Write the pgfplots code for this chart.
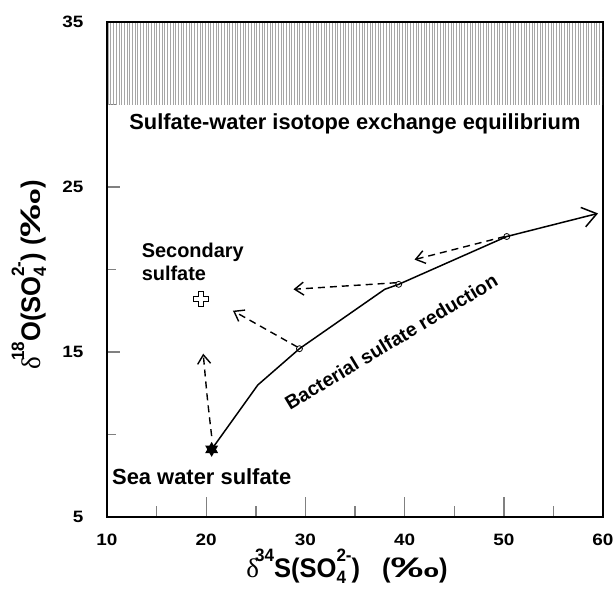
\documentclass[border=0pt]{standalone}
\usepackage{graphicx}
\usepackage{pgfplots}
\pgfplotsset{compat=1.18}
\usepackage{fontspec}
\setmainfont{Liberation Sans}
\newfontfamily\seriffont{Liberation Serif}
\newfontfamily\tickfont[FakeStretch=1.15]{Liberation Sans}
\newfontfamily\labfont[FakeStretch=0.95]{Liberation Sans}
\usetikzlibrary{patterns,patterns.meta,arrows.meta}

\pgfdeclareplotmark{opencross}{%
  \pgfpathmoveto{\pgfpoint{2.6bp}{7.6bp}}%
  \pgfpathlineto{\pgfpoint{2.6bp}{2.6bp}}%
  \pgfpathlineto{\pgfpoint{7.6bp}{2.6bp}}%
  \pgfpathlineto{\pgfpoint{7.6bp}{-2.6bp}}%
  \pgfpathlineto{\pgfpoint{2.6bp}{-2.6bp}}%
  \pgfpathlineto{\pgfpoint{2.6bp}{-7.6bp}}%
  \pgfpathlineto{\pgfpoint{-2.6bp}{-7.6bp}}%
  \pgfpathlineto{\pgfpoint{-2.6bp}{-2.6bp}}%
  \pgfpathlineto{\pgfpoint{-7.6bp}{-2.6bp}}%
  \pgfpathlineto{\pgfpoint{-7.6bp}{2.6bp}}%
  \pgfpathlineto{\pgfpoint{-2.6bp}{2.6bp}}%
  \pgfpathlineto{\pgfpoint{-2.6bp}{7.6bp}}%
  \pgfpathclose
  \pgfusepath{fill,stroke}%
}
\pgfdeclareplotmark{sixstar}{%
  \pgfpathmoveto{\pgfpointpolar{90}{7.5bp}}%
  \pgfpathlineto{\pgfpointpolar{210}{7.5bp}}%
  \pgfpathlineto{\pgfpointpolar{330}{7.5bp}}%
  \pgfpathclose
  \pgfpathmoveto{\pgfpointpolar{30}{7.5bp}}%
  \pgfpathlineto{\pgfpointpolar{150}{7.5bp}}%
  \pgfpathlineto{\pgfpointpolar{270}{7.5bp}}%
  \pgfpathclose
  \pgfusepath{fill}%
}

% axis label: delta^{#1}#2(SO4^{2-})#3(permil)
\newcommand{\smallfig}[1]{{\labfont\bfseries\fontsize{18}{20}\selectfont #1}}
\newcommand{\isolab}[3]{{\labfont\bfseries\fontsize{27}{30}\selectfont
  {\seriffont\mdseries δ}\kern-4bp\raisebox{16bp}{\smallfig{#1}}#2(SO\rlap{\raisebox{-6bp}{\smallfig{4}}}\raisebox{16bp}{\smallfig{2-}})#3(\scalebox{1.9}[1.05]{‰})}}

\pgfplotsset{
  myframe/.style={
    at={(0,0)}, anchor=south west,
    scale only axis, width=496bp, height=495bp,
    xmin=10, xmax=60, ymin=5, ymax=35,
    tick pos=left, tick align=inside,
    axis line style={line width=1.5bp},
    major tick style={line width=1.4bp},
    minor tick style={line width=1.4bp},
    /pgf/number format/assume math mode=true,
    tick label style={font=\tickfont\bfseries\fontsize{16.5}{19}\selectfont},
  }
}

\begin{document}
\begin{tikzpicture}
\useasboundingbox (-107bp,-72bp) rectangle (508bp,517bp);
% y ticks frame
\begin{axis}[myframe,
  xtick=\empty,
  ytick={5,15,25,35}, minor ytick={10,20,30},
  major tick length=13bp, minor tick length=8.7bp,
  yticklabel style={xshift=-20bp},
  ylabel={\isolab{18}{O}{ }},
  ylabel style={at={(axis description cs:-0.135,0.291)}, anchor=base west},
]
\end{axis}
\begin{axis}[myframe,
  xtick={10,20,...,60}, minor xtick={15,25,...,55},
  ytick=\empty,
  major tick length=20bp, minor tick length=11bp,
  xticklabel style={yshift=-14bp},
  xlabel={\isolab{34}{S}{\hspace{22bp}}},
  xlabel style={at={(axis description cs:0.274,-0.123)}, anchor=base west},
  clip=false,
]
% hatched equilibrium region
\addplot[draw=none, pattern={Lines[angle=90,distance=2.7bp,line width=0.55bp]}, pattern color=gray!70]
  coordinates {(10.1,30) (59.9,30) (59.9,34.9) (10.1,34.9) (10.1,30)};

% bacterial sulfate reduction path
\addplot[line width=1.5bp, -{Straight Barb[length=14bp,width=20bp,line width=1.5bp]}]
  coordinates {(20.55,9.1) (25.2,13.0) (29.4,15.2) (38.0,18.8) (39.4,19.1) (50.3,22.0) (59.5,23.4)};

% dashed arrows
\addplot[line width=1.4bp, dash pattern=on 7bp off 5bp, -{Straight Barb[length=9bp,width=13bp,line width=1.4bp]}, smooth]
  coordinates {(20.55,9.9) (20.1,12.3) (19.7,14.9)};
\addplot[line width=1.4bp, dash pattern=on 7bp off 5bp, -{Straight Barb[length=9bp,width=13bp,line width=1.4bp]}]
  coordinates {(29.2,15.3) (22.7,17.5)};
\addplot[line width=1.4bp, dash pattern=on 7bp off 5bp, -{Straight Barb[length=9bp,width=13bp,line width=1.4bp]}]
  coordinates {(39.2,19.2) (28.8,18.8)};
\addplot[line width=1.4bp, dash pattern=on 7bp off 5bp, -{Straight Barb[length=9bp,width=13bp,line width=1.4bp]}]
  coordinates {(50.1,22.0) (41.0,20.6)};

% open circles
\addplot[only marks, mark=o, mark size=3bp, mark options={fill=white, line width=0.8bp}]
  coordinates {(29.4,15.2) (39.4,19.1) (50.3,22.0)};

% sea water sulfate star
\addplot[only marks, mark=sixstar, mark options={fill=black}]
  coordinates {(20.55,9.1)};

% secondary sulfate cross
\addplot[only marks, mark=opencross, mark options={fill=white, draw=black, line width=1.2bp}]
  coordinates {(19.48,18.2)};

% labels
\node[anchor=base west, font=\fontsize{21.9}{24}\selectfont\bfseries, inner sep=0pt]
  at (axis cs:12.24,28.5) {Sulfate-water isotope exchange equilibrium};
\node[anchor=base west, font=\fontsize{20}{23}\selectfont\bfseries, inner sep=0pt]
  at (axis cs:13.49,20.74) {Secondary};
\node[anchor=base west, font=\fontsize{20}{23}\selectfont\bfseries, inner sep=0pt]
  at (axis cs:13.49,19.32) {sulfate};
\node[anchor=base west, font=\fontsize{22}{24}\selectfont\bfseries, inner sep=0pt]
  at (axis cs:10.5,6.94) {Sea water sulfate};
\node[anchor=base west, rotate=31, font=\fontsize{19.5}{22}\selectfont\bfseries, inner sep=0pt]
  at (axis cs:28.45,11.45) {Bacterial sulfate reduction};
\end{axis}
\end{tikzpicture}
\end{document}
